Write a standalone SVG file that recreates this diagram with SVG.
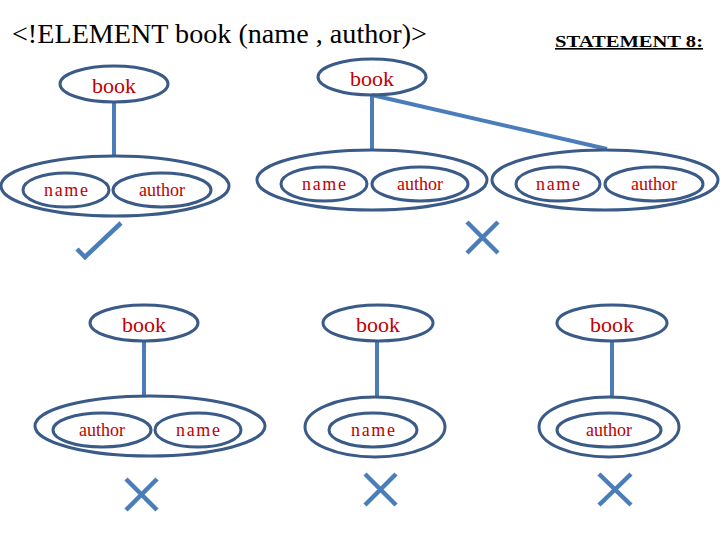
<svg xmlns="http://www.w3.org/2000/svg" width="720" height="540" viewBox="0 0 720 540">
<rect width="720" height="540" fill="#fff"/>
<text font-family="'Liberation Serif'" x="12" y="43" font-size="28" textLength="415" lengthAdjust="spacingAndGlyphs" fill="#000">&lt;!ELEMENT book (name , author)&gt;</text>
<text font-family="'Liberation Serif'" x="555" y="47" font-size="16" font-weight="bold" textLength="148" lengthAdjust="spacingAndGlyphs" fill="#000" text-decoration="underline">STATEMENT 8:</text>
<g id="connectors" fill="none" stroke="#4A7DBA" stroke-width="4">
<line x1="114" y1="102" x2="114" y2="157"/>
<line x1="372" y1="95" x2="372" y2="149"/>
<line x1="372" y1="95" x2="607" y2="149"/>
<line x1="144" y1="341" x2="144" y2="397"/>
<line x1="377" y1="341" x2="377" y2="397"/>
<line x1="612" y1="341" x2="612" y2="397"/>
</g>
<g id="shapes" fill="none" stroke="#3A5A88" stroke-width="3">
<ellipse id="n1-book" cx="114" cy="84" rx="54" ry="18"/>
<ellipse id="n1-seq" cx="115" cy="186" rx="114" ry="30"/>
<ellipse id="n1-name" cx="66" cy="190" rx="43" ry="17"/>
<ellipse id="n1-author" cx="162" cy="190" rx="49" ry="17"/>
<ellipse id="n2-book" cx="372" cy="77" rx="54" ry="18"/>
<ellipse id="n2-seqA" cx="372" cy="180" rx="115" ry="30"/>
<ellipse id="n2-nameA" cx="324" cy="184" rx="43" ry="17"/>
<ellipse id="n2-authorA" cx="420" cy="184" rx="48" ry="17"/>
<ellipse id="n2-seqB" cx="605" cy="180" rx="113" ry="30"/>
<ellipse id="n2-nameB" cx="558" cy="184" rx="42" ry="17"/>
<ellipse id="n2-authorB" cx="654" cy="184" rx="49" ry="17"/>
<ellipse id="n3-book" cx="144" cy="323" rx="54" ry="18"/>
<ellipse id="n3-seq" cx="150" cy="426" rx="115" ry="30"/>
<ellipse id="n3-author" cx="102" cy="430" rx="49" ry="17"/>
<ellipse id="n3-name" cx="198" cy="430" rx="43" ry="17"/>
<ellipse id="n4-book" cx="378" cy="323" rx="55" ry="18"/>
<ellipse id="n4-seq" cx="375" cy="427" rx="70" ry="30"/>
<ellipse id="n4-name" cx="373" cy="430" rx="44" ry="17"/>
<ellipse id="n5-book" cx="612" cy="323" rx="55" ry="18"/>
<ellipse id="n5-seq" cx="609" cy="427" rx="70" ry="30"/>
<ellipse id="n5-author" cx="609" cy="430" rx="52" ry="17"/>
</g>
<g id="marks" fill="none" stroke="#4A7DBA" stroke-width="4.5">
<polyline points="77,249 85,257 121,223"/>
<path d="M467,222 L498,253 M498,222 L467,253"/>
<path d="M126,479 L157,510 M157,479 L126,510"/>
<path d="M365,474 L396,505 M396,474 L365,505"/>
<path d="M599,474 L631,505 M631,474 L599,505"/>
</g>
<g id="labels" font-family="'Liberation Serif'" fill="#C00000" text-anchor="middle">
<text x="114" y="93" font-size="22">book</text>
<text x="66" y="196" font-size="18" textLength="44" lengthAdjust="spacing">name</text>
<text x="162" y="196" font-size="18">author</text>
<text x="372" y="86" font-size="22">book</text>
<text x="324" y="190" font-size="18" textLength="44" lengthAdjust="spacing">name</text>
<text x="420" y="190" font-size="18">author</text>
<text x="558" y="190" font-size="18" textLength="44" lengthAdjust="spacing">name</text>
<text x="654" y="190" font-size="18">author</text>
<text x="144" y="332" font-size="22">book</text>
<text x="102" y="436" font-size="18">author</text>
<text x="198" y="436" font-size="18" textLength="44" lengthAdjust="spacing">name</text>
<text x="378" y="332" font-size="22">book</text>
<text x="373" y="436" font-size="18" textLength="44" lengthAdjust="spacing">name</text>
<text x="612" y="332" font-size="22">book</text>
<text x="609" y="436" font-size="18">author</text>
</g>
</svg>
